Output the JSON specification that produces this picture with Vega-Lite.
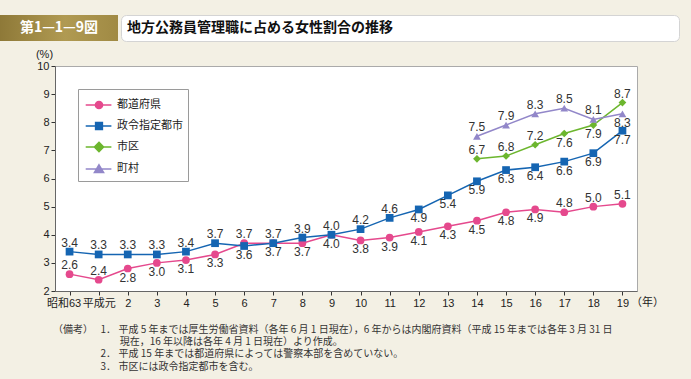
{
  "$schema": "https://vega.github.io/schema/vega-lite/v6.json",
  "background": "#f3f0e4",
  "padding": {"left": 0, "top": 14, "right": 13, "bottom": 8},
  "spacing": 5,
  "config": {
    "view": {"stroke": null},
    "font": "Liberation Sans",
    "legend": {
      "orient": "top-left",
      "offset": 23,
      "padding": 5,
      "fillColor": "white",
      "strokeColor": "#9a9a9a",
      "labelFont": "Noto Sans CJK JP",
      "labelFontSize": 11,
      "labelColor": "#222222",
      "labelOffset": 12,
      "rowPadding": 3,
      "symbolSize": 400,
      "symbolStrokeWidth": 1.5
    }
  },
  "datasets": {
    "rates": [
      {"year": "昭和63", "series": "都道府県", "value": 2.6},
      {"year": "平成元", "series": "都道府県", "value": 2.4},
      {"year": "2", "series": "都道府県", "value": 2.8},
      {"year": "3", "series": "都道府県", "value": 3.0},
      {"year": "4", "series": "都道府県", "value": 3.1},
      {"year": "5", "series": "都道府県", "value": 3.3},
      {"year": "6", "series": "都道府県", "value": 3.7},
      {"year": "7", "series": "都道府県", "value": 3.7},
      {"year": "8", "series": "都道府県", "value": 3.7},
      {"year": "9", "series": "都道府県", "value": 4.0},
      {"year": "10", "series": "都道府県", "value": 3.8},
      {"year": "11", "series": "都道府県", "value": 3.9},
      {"year": "12", "series": "都道府県", "value": 4.1},
      {"year": "13", "series": "都道府県", "value": 4.3},
      {"year": "14", "series": "都道府県", "value": 4.5},
      {"year": "15", "series": "都道府県", "value": 4.8},
      {"year": "16", "series": "都道府県", "value": 4.9},
      {"year": "17", "series": "都道府県", "value": 4.8},
      {"year": "18", "series": "都道府県", "value": 5.0},
      {"year": "19", "series": "都道府県", "value": 5.1},
      {"year": "昭和63", "series": "政令指定都市", "value": 3.4},
      {"year": "平成元", "series": "政令指定都市", "value": 3.3},
      {"year": "2", "series": "政令指定都市", "value": 3.3},
      {"year": "3", "series": "政令指定都市", "value": 3.3},
      {"year": "4", "series": "政令指定都市", "value": 3.4},
      {"year": "5", "series": "政令指定都市", "value": 3.7},
      {"year": "6", "series": "政令指定都市", "value": 3.6},
      {"year": "7", "series": "政令指定都市", "value": 3.7},
      {"year": "8", "series": "政令指定都市", "value": 3.9},
      {"year": "9", "series": "政令指定都市", "value": 4.0},
      {"year": "10", "series": "政令指定都市", "value": 4.2},
      {"year": "11", "series": "政令指定都市", "value": 4.6},
      {"year": "12", "series": "政令指定都市", "value": 4.9},
      {"year": "13", "series": "政令指定都市", "value": 5.4},
      {"year": "14", "series": "政令指定都市", "value": 5.9},
      {"year": "15", "series": "政令指定都市", "value": 6.3},
      {"year": "16", "series": "政令指定都市", "value": 6.4},
      {"year": "17", "series": "政令指定都市", "value": 6.6},
      {"year": "18", "series": "政令指定都市", "value": 6.9},
      {"year": "19", "series": "政令指定都市", "value": 7.7},
      {"year": "14", "series": "市区", "value": 6.7},
      {"year": "15", "series": "市区", "value": 6.8},
      {"year": "16", "series": "市区", "value": 7.2},
      {"year": "17", "series": "市区", "value": 7.6},
      {"year": "18", "series": "市区", "value": 7.9},
      {"year": "19", "series": "市区", "value": 8.7},
      {"year": "14", "series": "町村", "value": 7.5},
      {"year": "15", "series": "町村", "value": 7.9},
      {"year": "16", "series": "町村", "value": 8.3},
      {"year": "17", "series": "町村", "value": 8.5},
      {"year": "18", "series": "町村", "value": 8.1},
      {"year": "19", "series": "町村", "value": 8.3}
    ]
  },
  "vconcat": [
    {
      "hconcat": [
        {
          "width": 118,
          "height": 26,
          "view": {
            "fill": {"gradient": "linear", "x1": 0, "y1": 0, "x2": 1, "y2": 0,
              "stops": [{"offset": 0, "color": "#8e7938"}, {"offset": 0.55, "color": "#b09a52"}, {"offset": 1, "color": "#a08a44"}]},
            "stroke": null
          },
          "data": {"values": [{"t": "第1—1—9図"}]},
          "mark": {"type": "text", "font": "Noto Sans CJK JP", "fontSize": 14, "fontWeight": "bold", "color": "white", "align": "center", "baseline": "middle"},
          "encoding": {"text": {"field": "t", "type": "nominal"}}
        },
        {
          "width": 558,
          "height": 26,
          "view": {"fill": "white", "stroke": "#d4d4d4", "cornerRadius": 5},
          "data": {"values": [{"t": "地方公務員管理職に占める女性割合の推移"}]},
          "mark": {"type": "text", "font": "Noto Sans CJK JP", "fontSize": 14, "fontWeight": "bold", "color": "#111111", "align": "left", "baseline": "middle", "dx": -273},
          "encoding": {"text": {"field": "t", "type": "nominal"}}
        }
      ],
      "spacing": 2
    },
    {
      "hconcat": [
        {
          "width": 1,
          "height": 1,
          "view": {"stroke": null},
          "data": {"values": []},
          "mark": "point"
        },
        {
          "width": 582,
          "height": 225,
          "view": {"fill": "white", "stroke": "#aaaaaa"},
          "data": {"name": "rates"},
          "title": {
            "text": [
              "（備考）\u2002\u20051．\u2005平成 5 年までは厚生労働省資料（各年 6 月 1 日現在），6 年からは内閣府資料（平成 15 年までは各年 3 月 31 日",
              "\u200b\u3000\u3000\u3000\u3000\u3000\u3000\u2002\u2006現在，16 年以降は各年 4 月 1 日現在）より作成。",
              "\u200b\u3000\u3000\u3000\u3000\u2002\u20052．\u2005平成 15 年までは都道府県によっては警察本部を含めていない。",
              "\u200b\u3000\u3000\u3000\u3000\u2002\u20053．\u2005市区には政令指定都市を含む。"
            ],
            "orient": "bottom",
            "anchor": "start",
            "frame": "group",
            "font": "Noto Sans CJK JP",
            "fontSize": 10,
            "fontWeight": "normal",
            "color": "#333333",
            "lineHeight": 12.2,
            "offset": 17,
            "dx": -2
          },
          "encoding": {
            "x": {"field": "year", "type": "ordinal",
              "scale": {"type": "point", "padding": 0.5, "domain": ["昭和63", "平成元", "2", "3", "4", "5", "6", "7", "8", "9", "10", "11", "12", "13", "14", "15", "16", "17", "18", "19"]},
              "axis": {"title": "（年）", "titleX": 592, "titleY": 11.5, "titleAlign": "center", "titleBaseline": "middle", "titleFont": "Noto Sans CJK JP", "titleFontSize": 11, "titleFontWeight": "normal", "titleColor": "#222222",
                "labelAngle": 0, "labelFont": "Liberation Sans, Noto Sans CJK JP", "labelFontSize": 11, "labelColor": "#222222", "labelPadding": 2, "labelOverlap": false,
                "labelOffset": {"condition": {"test": "datum.value == '昭和63'", "value": -6}, "value": 0},
                "tickSize": 4, "tickColor": "#333333", "domainColor": "#666666"}},
            "y": {"field": "value", "type": "quantitative",
              "scale": {"domain": [2, 10], "nice": false, "zero": false},
              "axis": {"title": "(%)", "titleAngle": 0, "titleX": -11, "titleY": -12, "titleAlign": "center", "titleBaseline": "middle", "titleFontSize": 11, "titleFontWeight": "normal", "titleColor": "#222222",
                "values": [2, 3, 4, 5, 6, 7, 8, 9, 10], "format": "d", "minExtent": 53, "grid": false, "labelOverlap": false,
                "labelFontSize": 11, "labelColor": "#222222", "tickSize": 4, "tickColor": "#333333", "domainColor": "#666666"}}
          },
          "layer": [
            {
              "mark": {"type": "line", "strokeWidth": 1.5},
              "encoding": {
                "color": {"field": "series", "type": "nominal",
                  "scale": {"domain": ["都道府県", "政令指定都市", "市区", "町村"], "range": ["#e5498d", "#1565b2", "#6cb62e", "#9287c9"]},
                  "legend": null}
              }
            },
            {
              "mark": {"type": "point", "filled": true, "size": 60, "opacity": 1},
              "encoding": {
                "color": {"field": "series", "type": "nominal", "legend": null},
                "shape": {"field": "series", "type": "nominal",
                  "scale": {"domain": ["都道府県", "政令指定都市", "市区", "町村"], "range": ["circle", "square", "diamond", "triangle-up"]},
                  "legend": null}
              }
            },
            {
              "transform": [{"filter": "!((datum.series == '都道府県' && indexof(['2','3','4','5','7','8','9','10','11','12','13','14','15','16'], datum.year) >= 0) || (datum.series == '政令指定都市' && indexof(['6','12','13','14','15','16','17','18','19'], datum.year) >= 0) || (datum.series == '市区' && indexof(['17','18'], datum.year) >= 0) || (datum.series == '町村' && datum.year == '19'))"}],
              "mark": {"type": "text", "dy": -9, "fontSize": 12, "color": "#333333", "baseline": "middle"},
              "encoding": {
                "text": {"field": "value", "type": "quantitative", "format": ".1f"}
              }
            },
            {
              "transform": [{"filter": "(datum.series == '都道府県' && indexof(['2','3','4','5','7','8','9','10','11','12','13','14','15','16'], datum.year) >= 0) || (datum.series == '政令指定都市' && indexof(['6','12','13','14','15','16','17','18','19'], datum.year) >= 0) || (datum.series == '市区' && indexof(['17','18'], datum.year) >= 0) || (datum.series == '町村' && datum.year == '19')"}],
              "mark": {"type": "text", "dy": 9, "fontSize": 12, "color": "#333333", "baseline": "middle"},
              "encoding": {
                "text": {"field": "value", "type": "quantitative", "format": ".1f"}
              }
            },
            {
              "transform": [{"filter": "false"}],
              "mark": {"type": "point", "filled": true, "size": 400, "strokeWidth": 1.5, "opacity": 1},
              "encoding": {
                "fill": {"field": "series", "type": "nominal",
                  "scale": {"domain": ["都道府県", "政令指定都市", "市区", "町村"], "range": ["#e5498d", "#1565b2", "#6cb62e", "#9287c9"]},
                  "legend": {"title": null}},
                "stroke": {"field": "series", "type": "nominal",
                  "scale": {"domain": ["都道府県", "政令指定都市", "市区", "町村"], "range": ["#e5498d", "#1565b2", "#6cb62e", "#9287c9"]},
                  "legend": {"title": null}},
                "shape": {"field": "series", "type": "nominal",
                  "scale": {"domain": ["都道府県", "政令指定都市", "市区", "町村"],
                    "range": [
                      "M-0.83,0H1.74M0.14,0A0.36,0.36 0 1,0 0.86,0A0.36,0.36 0 1,0 0.14,0Z",
                      "M-0.83,0H1.74M0.16,-0.34H0.84V0.34H0.16Z",
                      "M-0.83,0H1.74M0.5,-0.46L0.96,0L0.5,0.46L0.04,0Z",
                      "M-0.83,0H1.74M0.5,-0.42L0.96,0.36H0.04Z"
                    ]},
                  "legend": {"title": null}}
              }
            }
          ],
          "resolve": {"scale": {"shape": "independent", "fill": "independent", "stroke": "independent"}}
        }
      ],
      "spacing": 0
    }
  ]
}
